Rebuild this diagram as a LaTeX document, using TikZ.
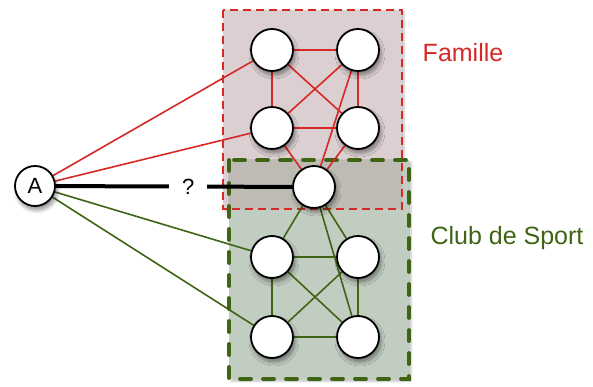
\documentclass[tikz,border=0pt]{standalone}
\usepackage{fontspec}
\setmainfont{Liberation Sans}
\usetikzlibrary{shadows.blur}
\definecolor{famred}{RGB}{214,40,36}
\definecolor{sportgreen}{RGB}{62,100,20}
\definecolor{famfill}{RGB}{219,207,209}
\definecolor{sportfill}{RGB}{194,205,194}
\definecolor{bothfill}{RGB}{190,186,180}
\pgfdeclarelayer{groups}
\pgfdeclarelayer{links}
\pgfsetlayers{groups,links,main}

\begin{document}
\begin{tikzpicture}[x=1pt, y=-1pt,
    pers/.style={circle, draw=black, line width=1.8pt, fill=white, minimum size=42pt, inner sep=0pt,
      blur shadow={shadow xshift=2pt, shadow yshift=-4pt, shadow opacity=45, shadow blur steps=8, shadow blur radius=4pt}},
    famedge/.style={famred, line width=1.6pt},
    sportedge/.style={sportgreen, line width=1.6pt},
    grpshadow/.style={blur shadow={shadow xshift=2pt, shadow yshift=-2pt, shadow opacity=25}}]
  %tikz  Famille et club de sport
    \useasboundingbox (0,0) rectangle (593,387);
    \def\xl{272}
    \def\xr{358}
    % personnes
    \node[pers, minimum size=40pt, font=\fontsize{22}{26}\selectfont] (A) at (35,186) {A};
    \node[pers] (f1) at (\xl,50) {};
    \node[pers] (f2) at (\xr,50) {};
    \node[pers] (f3) at (\xl,128) {};
    \node[pers] (f4) at (\xr,128) {};
    \node[pers] (c) at (314,187) {};
    \node[pers] (s1) at (\xl,257) {};
    \node[pers] (s2) at (\xr,257) {};
    \node[pers] (s3) at (\xl,337) {};
    \node[pers] (s4) at (\xr,337) {};
    \node[famred, font=\fontsize{25}{30}\selectfont] (famille) at (463,53) {Famille};
    \node[sportgreen, font=\fontsize{25}{30}\selectfont] (club) at (507,238) {Club de Sport};
    % groupes
    \begin{pgfonlayer}{groups}
    \fill[famfill, grpshadow] (223,10) rectangle (402,209);
    \fill[sportfill, grpshadow] (229,160) rectangle (409,379);
    \fill[bothfill] (229,160) rectangle (402,209);
    \draw[famred, line width=1.4pt, dash pattern=on 8pt off 5pt] (223,10) rectangle (402,209);
    \draw[sportgreen, line width=3.8pt, line cap=round, dash pattern=on 11pt off 12pt] (229,160) rectangle (409,379);
    \end{pgfonlayer}
    % liens
    \begin{pgfonlayer}{links}
    \draw[famedge] (A) -- (f1);
    \draw[famedge] (A) -- (f3);
    \draw[famedge] (f1) -- (f2) (f1) -- (f3) (f2) -- (f4) (f3) -- (f4) (f1) -- (f4) (f2) -- (f3);
    \draw[famedge] (f3) -- (c) (f4) -- (c) (f2) -- (c);
    \draw[sportedge] (A) -- (s1);
    \draw[sportedge] (A) -- (s3);
    \draw[sportedge] (c) -- (s1) (c) -- (s2) (c) -- (s4);
    \draw[sportedge] (s1) -- (s2) (s1) -- (s3) (s2) -- (s4) (s3) -- (s4) (s1) -- (s4) (s2) -- (s3);
    \draw[line width=4pt] (A) -- (c) node[pos=0.56, fill=white, minimum width=38pt, inner ysep=1pt, font=\fontsize{22}{26}\selectfont] (q) {?};
    \end{pgfonlayer}
  \end{tikzpicture}
\end{document}
